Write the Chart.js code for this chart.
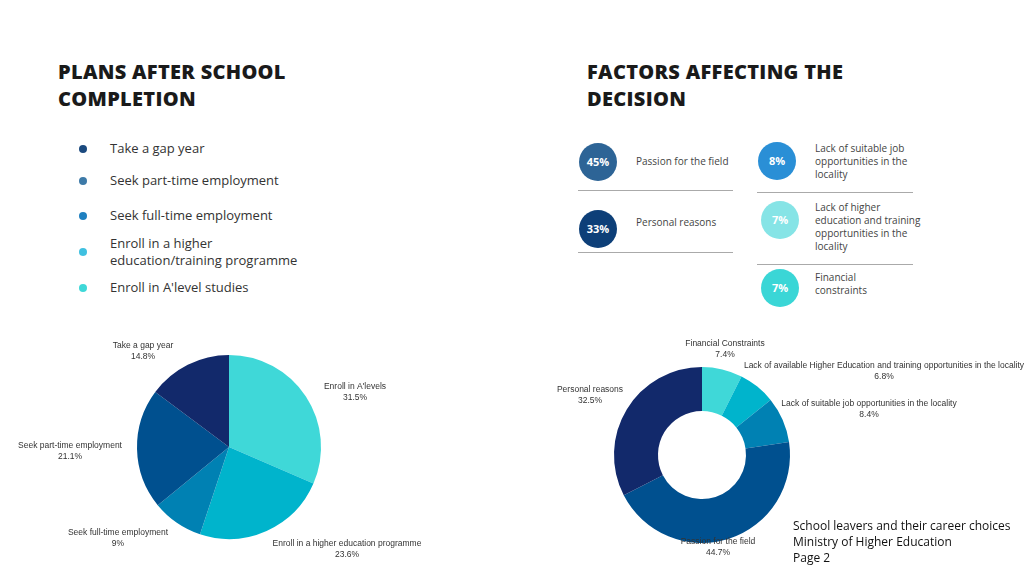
<!DOCTYPE html>
<html>
<head>
<meta charset="utf-8">
<script src="https://cdn.jsdelivr.net/npm/chart.js@4/dist/chart.umd.min.js"></script>
<style>
  body { margin: 0; width: 1024px; height: 576px; background: #fff; position: relative; overflow: hidden; font-family: "Open Sans", sans-serif; color: #333; }
  .abs { position: absolute; }
  h1 { position: absolute; margin: 0; font-family: "Open Sans", sans-serif; font-weight: 800; font-size: 20px; line-height: 27px; color: #1a1a1a; letter-spacing: 0.3px; }
  .leg { position: absolute; left: 110px; font-size: 13px; line-height: 17px; color: #333; }
  .dot { position: absolute; left: 79px; width: 8px; height: 8px; border-radius: 50%; }
  .circ { position: absolute; width: 38px; height: 38px; border-radius: 50%; color: #fff; font-weight: 700; font-size: 11px; line-height: 38px; text-align: center; }
  .ft { position: absolute; font-size: 10px; line-height: 13px; color: #444; }
  .sep { position: absolute; height: 1px; background: #aaa; }
  .foot { position: absolute; left: 793px; top: 518px; font-family: "Open Sans", sans-serif; font-size: 12px; line-height: 16px; color: #111; }
  canvas { position: absolute; }
</style>
</head>
<body>
<h1 style="left:58px;top:58px">PLANS AFTER SCHOOL<br>COMPLETION</h1>
<h1 style="left:587px;top:58px">FACTORS AFFECTING THE<br>DECISION</h1>

<div class="dot" style="top:145px;background:#1b4a7f"></div><div class="leg" style="top:140px">Take a gap year</div>
<div class="dot" style="top:177px;background:#3d7aa8"></div><div class="leg" style="top:172px">Seek part-time employment</div>
<div class="dot" style="top:212px;background:#1f80c0"></div><div class="leg" style="top:207px">Seek full-time employment</div>
<div class="dot" style="top:248px;background:#3fc0e0"></div><div class="leg" style="top:235px">Enroll in a higher<br>education/training programme</div>
<div class="dot" style="top:284px;background:#3fd8d8"></div><div class="leg" style="top:279px">Enroll in A'level studies</div>

<div class="circ" style="left:579px;top:143px;background:#2d6496">45%</div>
<div class="ft" style="left:636px;top:155px">Passion for the field</div>
<div class="sep" style="left:578px;top:190px;width:155px"></div>
<div class="circ" style="left:579px;top:210px;background:#0d3f78">33%</div>
<div class="ft" style="left:636px;top:216px">Personal reasons</div>
<div class="sep" style="left:578px;top:252px;width:155px"></div>

<div class="circ" style="left:758px;top:142px;background:#2a8fd6">8%</div>
<div class="ft" style="left:815px;top:142px">Lack of suitable job<br>opportunities in the<br>locality</div>
<div class="sep" style="left:757px;top:192px;width:156px"></div>
<div class="circ" style="left:761px;top:201px;background:#86e4e6">7%</div>
<div class="ft" style="left:815px;top:201px">Lack of higher<br>education and training<br>opportunities in the<br>locality</div>
<div class="sep" style="left:757px;top:264px;width:156px"></div>
<div class="circ" style="left:761px;top:269px;background:#3ad6d6">7%</div>
<div class="ft" style="left:815px;top:271px">Financial<br>constraints</div>

<canvas id="plans-chart" style="left:0;top:330px"></canvas>
<canvas id="factors-chart" style="left:550px;top:330px"></canvas>

<div class="foot">School leavers and their career choices<br>Ministry of Higher Education<br>Page 2</div>

<script>
  // données
  const planLabels = ["Enroll in A'levels", 'Enroll in a higher education programme', 'Seek full-time employment', 'Seek part-time employment', 'Take a gap year'];
  const planValues = [31.5, 23.6, 9, 21.1, 14.8];
  const planPct = ['31.5%', '23.6%', '9%', '21.1%', '14.8%'];

  const factorLabels = ['Financial Constraints', 'Lack of available Higher Education and training opportunities in the locality', 'Lack of suitable job opportunities in the locality', 'Passion for the field', 'Personal reasons'];
  const factorValues = [7.4, 6.8, 8.4, 44.7, 32.5];
  const factorPct = ['7.4%', '6.8%', '8.4%', '44.7%', '32.5%'];

  const sliceColors = ['#3fd8d8', '#00b4cc', '#0081b3', '#00508f', '#12296b'];

  // mise en page des étiquettes (décalage depuis le centre)
  const planLabelOffsets = [[126, -55], [118, 102], [-111, 91], [-159, 4], [-86, -96]];
  const factorLabelOffsets = [[23, -106], [182, -84], [167, -46], [16, 92], [-112, -60]];

  function outsideLabels(offsets, pcts) {
    return {
      id: 'outsideLabels',
      afterDraw: function (chart) {
        const c = chart.ctx;
        const arc = chart.getDatasetMeta(0).data[0];
        c.save();
        c.font = '8.5px "Liberation Sans", Arial, sans-serif';
        c.fillStyle = '#333';
        c.textAlign = 'center';
        c.textBaseline = 'middle';
        chart.data.labels.forEach((lbl, i) => {
          const x = arc.x + offsets[i][0];
          const y = arc.y + offsets[i][1];
          c.fillText(lbl, x, y - 5.5);
          c.fillText(pcts[i], x, y + 5.5);
        });
        c.restore();
      }
    };
  }

  function makePie(id, w, h, pad, labels, values, cutout, offsets, pcts) {
    const cv = document.getElementById(id);
    cv.width = w; cv.height = h;
    cv.style.width = w + 'px'; cv.style.height = h + 'px';
    new Chart(cv, {
      type: cutout ? 'doughnut' : 'pie',
      data: {
        labels: labels,
        datasets: [{ data: values, backgroundColor: sliceColors, borderWidth: 0 }]
      },
      options: {
        responsive: false,
        animation: false,
        cutout: cutout || 0,
        layout: { padding: pad },
        plugins: { legend: { display: false }, tooltip: { enabled: false } }
      },
      plugins: [outsideLabels(offsets, pcts)]
    });
  }

  makePie('plans-chart', 460, 246, { left: 137, right: 139, top: 25, bottom: 37 }, planLabels, planValues, 0, planLabelOffsets, planPct);
  makePie('factors-chart', 474, 246, { left: 64, right: 234, top: 37, bottom: 33 }, factorLabels, factorValues, '50%', factorLabelOffsets, factorPct);
</script>
</body>
</html>
